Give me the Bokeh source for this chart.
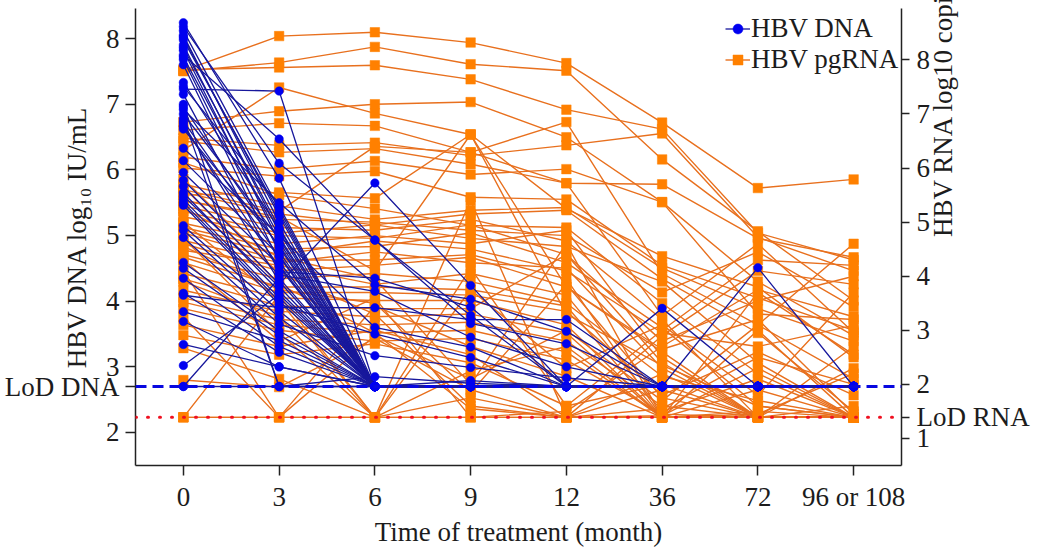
import math
from bokeh.plotting import figure
from bokeh.models import (ColumnDataSource, Range1d, LinearAxis, FixedTicker, Span, Label,
                          Legend, LegendItem)
from bokeh.embed import file_html
from bokeh.resources import INLINE

months = ["0", "3", "6", "9", "12", "36", "72", "96 or 108"]
positions = list(range(len(months)))
LOD_DNA = 2.7
LOD_RNA = 1.39
L = LOD_DNA
R = LOD_RNA

dna_patients = [
    [8.24,5.87,L,L,L,L,L,L],
    [8.18,6.10,4.93,3.78,L,L,L,L],
    [8.12,5.40,L,L,L,L,L,L],
    [8.05,5.20,L,L,L,L,L,L],
    [7.98,5.35,L,L,L,L,L,L],
    [7.90,5.05,L,L,L,L,L,L],
    [7.82,4.90,L,L,L,L,L,L],
    [7.75,6.47,4.93,3.66,3.35,L,L,L],
    [7.68,4.75,L,L,L,L,L,L],
    [7.60,4.60,L,L,L,L,L,L],
    [8.02,5.30,L,L,L,L,L,L],
    [7.86,5.12,L,L,L,L,L,L],
    [7.72,4.98,L,L,L,L,L,L],
    [7.33,5.10,L,L,L,L,L,L],
    [7.23,7.20,L,L,L,L,L,L],
    [7.27,5.45,L,L,L,L,L,L],
    [7.15,4.45,4.35,3.91,L,L,L,L],
    [7.00,L,2.85,2.75,L,L,L,L],
    [6.96,4.82,L,L,L,L,L,L],
    [6.92,5.50,4.25,4.03,3.54,L,L,L],
    [6.85,4.95,L,L,L,L,L,L],
    [6.78,L,L,L,L,L,L,L],
    [6.74,4.68,L,L,L,L,L,L],
    [6.70,4.30,L,2.79,L,L,L,L],
    [6.66,4.52,L,L,L,L,L,L],
    [6.62,4.85,L,L,L,L,L,L],
    [6.33,5.00,3.60,3.30,L,L,L,L],
    [6.14,4.70,L,L,L,L,L,L],
    [5.96,4.55,L,L,L,L,L,L],
    [5.84,4.40,4.15,3.45,3.00,L,L,L],
    [5.75,4.26,5.80,4.24,L,L,L,L],
    [5.65,4.15,L,L,L,L,L,L],
    [5.60,4.22,L,L,L,L,L,L],
    [5.55,4.05,L,L,L,L,L,L],
    [5.50,4.00,L,L,L,L,L,L],
    [5.46,3.95,3.50,3.14,L,L,L,L],
    [5.15,3.85,L,L,L,L,L,L],
    [5.08,3.75,L,L,L,L,L,L],
    [4.97,3.65,3.17,2.99,2.83,L,L,L],
    [4.59,3.55,L,L,L,L,L,L],
    [4.50,3.48,L,L,L,L,L,L],
    [4.35,3.31,L,L,L,L,L,L],
    [4.12,3.22,L,L,L,L,L,L],
    [4.09,3.90,3.90,3.72,3.72,L,L,L],
    [3.84,3.40,L,L,L,L,L,L],
    [3.69,3.00,L,L,L,L,L,L],
    [3.34,3.00,L,L,L,L,L,L],
    [3.02,4.10,L,L,L,L,L,L],
    [L,4.35,L,L,L,3.89,L,L],
    [L,L,L,L,L,L,4.51,L],
]

rna_patients = [
    [7.80,8.44,8.51,8.32,7.94,6.84,5.63,5.79],
    [7.79,7.95,8.24,7.92,7.80,6.16,4.83,3.55],
    [7.82,7.86,7.90,7.64,7.08,6.72,4.80,4.30],
    [6.33,7.49,7.01,6.62,5.25,4.37,3.80,2.50],
    [6.85,7.05,7.18,7.22,6.57,5.37,3.30,3.20],
    [6.70,6.83,6.78,6.29,5.72,3.27,4.60,2.96],
    [6.55,6.42,6.47,6.23,6.42,6.64,4.72,4.10],
    [6.50,6.29,6.36,6.07,5.72,5.70,4.70,4.35],
    [6.20,5.98,6.13,5.88,5.98,5.37,3.90,2.90],
    [6.00,5.85,5.94,5.46,5.42,4.20,3.60,3.00],
    [5.60,5.20,6.40,6.29,6.85,4.05,3.10,2.10],
    [5.50,5.55,5.44,6.62,3.80,2.60,R,R],
    [5.40,5.10,4.10,6.62,3.30,2.35,1.60,R],
    [6.10,5.50,5.25,4.94,4.90,3.50,2.20,R],
    [5.70,5.30,5.05,5.22,5.27,4.15,3.40,2.80],
    [5.55,5.15,4.95,5.15,5.22,3.95,2.95,1.50],
    [5.40,5.05,5.00,4.85,4.75,3.70,4.45,3.43],
    [5.30,4.90,4.85,5.05,4.65,3.20,R,R],
    [5.20,4.80,4.95,4.70,4.55,3.90,2.40,R],
    [5.10,4.75,4.70,4.95,4.40,2.80,3.55,4.00],
    [4.98,4.60,4.75,4.60,4.85,2.50,R,2.30],
    [4.90,4.50,4.55,4.80,4.25,3.05,1.60,R],
    [4.85,4.40,4.65,4.50,4.10,2.95,2.70,3.09],
    [4.80,4.30,4.30,4.40,3.95,R,3.70,2.55],
    [4.66,4.25,4.45,4.25,4.15,2.30,R,R],
    [4.60,4.10,4.20,4.35,3.80,2.65,3.20,1.45],
    [4.48,4.20,3.85,4.05,3.65,1.50,2.10,R],
    [4.40,3.95,4.05,3.90,3.50,2.15,1.70,R],
    [4.35,3.80,3.80,3.75,3.45,R,R,R],
    [4.25,3.70,3.70,3.65,3.35,1.80,2.60,1.80],
    [4.05,3.60,3.55,3.55,3.10,R,1.50,R],
    [3.95,3.45,3.40,3.40,4.40,2.40,R,R],
    [3.74,3.35,3.25,3.30,2.95,R,1.90,R],
    [3.60,3.20,3.10,3.15,2.80,1.60,R,2.70],
    [3.52,3.10,2.95,3.00,2.60,R,3.00,R],
    [3.40,3.00,2.80,2.85,2.45,1.45,R,R],
    [3.25,R,3.45,2.70,2.15,R,R,R],
    [3.10,2.70,3.00,2.55,R,1.90,R,R],
    [2.91,2.55,2.75,2.40,1.60,2.00,R,R],
    [2.67,2.10,R,2.25,2.70,R,R,R],
    [2.08,1.95,2.85,1.90,R,R,R,R],
    [R,3.65,R,1.75,R,2.20,R,R],
    [R,R,R,R,R,R,R,R],
    [R,R,R,R,R,R,R,R],
    [4.10,R,2.90,2.10,3.00,1.70,3.10,4.60],
    [3.90,3.25,R,3.75,2.30,3.10,1.80,3.70],
    [5.00,3.55,R,5.40,R,2.90,4.10,3.85],
    [4.70,2.95,R,4.15,1.60,3.00,4.30,4.20],
    [4.30,2.80,3.60,R,1.50,2.70,3.75,3.25],
    [5.80,4.05,3.30,1.60,R,1.55,2.50,2.00],
    [5.65,3.85,2.95,1.55,R,1.42,2.30,R],
    [5.25,4.35,3.95,2.00,4.60,R,1.45,2.20],
    [4.55,3.75,3.50,1.85,3.85,1.75,R,1.60],
]

FONT = "Liberation Serif"
INK = "#1c1c1c"
ORANGE_LINE = "#E8701E"
ORANGE_MARK = "#FF8000"
BLUE_LINE = "#18189C"
BLUE_MARK = "#0000F0"

p = figure(width=1047, height=554, output_backend="svg", toolbar_location=None,
           x_range=Range1d(-0.5, 7.5), y_range=Range1d(1.497, 8.457),
           min_border_left=135, min_border_right=146, min_border_top=8, min_border_bottom=89,
           outline_line_color=None, background_fill_color="white", border_fill_color="white")
p.grid.visible = False
p.extra_y_ranges = {"rna": Range1d(0.50, 8.95)}

ax = p.xaxis[0]
ax.ticker = FixedTicker(ticks=positions)
ax.major_label_overrides = {i: m for i, m in enumerate(months)}
ax.minor_tick_line_color = None
ax.major_tick_in = 0
ax.major_tick_out = 10
ax.major_label_standoff = 6
ax.major_label_text_font = FONT
ax.major_label_text_font_size = "27px"
ax.major_label_text_color = INK
ax.axis_line_color = "#222222"
ax.major_tick_line_color = "#222222"
ax.axis_line_width = 1.5
ax.major_tick_line_width = 1.5
ax.axis_label = "Time of treatment (month)"
ax.axis_label_standoff = 2
ax.axis_label_text_font = FONT
ax.axis_label_text_font_size = "27px"
ax.axis_label_text_font_style = "normal"
ax.axis_label_text_color = INK

ly = p.yaxis[0]
ly.ticker = FixedTicker(ticks=[2, LOD_DNA, 3, 4, 5, 6, 7, 8])
ly.major_label_overrides = {LOD_DNA: "LoD DNA"}
ly.minor_tick_line_color = None
ly.major_tick_in = 0
ly.major_tick_out = 10
ly.major_label_standoff = 6
ly.major_label_text_font = FONT
ly.major_label_text_font_size = "27px"
ly.major_label_text_color = INK
ly.axis_line_color = "#222222"
ly.major_tick_line_color = "#222222"
ly.axis_line_width = 1.5
ly.major_tick_line_width = 1.5
ly.axis_label = "HBV DNA log₁₀ IU/mL"
ly.axis_label_standoff = -90
ly.axis_label_text_font = FONT
ly.axis_label_text_font_size = "27px"
ly.axis_label_text_font_style = "normal"
ly.axis_label_text_color = INK

ry = LinearAxis(y_range_name="rna", ticker=FixedTicker(ticks=[1, LOD_RNA, 2, 3, 4, 5, 6, 7, 8]))
ry.major_label_overrides = {LOD_RNA: "LoD RNA"}
ry.minor_tick_line_color = None
ry.major_tick_in = 0
ry.major_tick_out = 8
ry.major_label_standoff = 7
ry.major_label_text_font = FONT
ry.major_label_text_font_size = "27px"
ry.major_label_text_color = INK
ry.axis_line_color = "#222222"
ry.major_tick_line_color = "#222222"
ry.axis_line_width = 1.5
ry.major_tick_line_width = 1.5
ry.axis_label = "HBV RNA log10 copies/mL"
ry.axis_label_standoff = -90
ry.axis_label_text_font = FONT
ry.axis_label_text_font_size = "27px"
ry.axis_label_text_font_style = "normal"
ry.axis_label_text_color = INK
if "axis_label_orientation" in ry.properties():
    ry.axis_label_orientation = math.pi / 2
p.add_layout(ry, "right")

# HBV pgRNA, right axis, underneath
rna_lines = p.multi_line(xs=[positions] * len(rna_patients), ys=rna_patients, y_range_name="rna",
                         line_color=ORANGE_LINE, line_width=1.4)
rna_src = ColumnDataSource(dict(
    x=[x for row in rna_patients for x in positions],
    y=[v for row in rna_patients for v in row]))
rna_pts = p.scatter("x", "y", source=rna_src, y_range_name="rna", marker="square", size=9.5,
                    fill_color=ORANGE_MARK, line_color=ORANGE_MARK, line_width=0.5)

# HBV DNA, left axis, on top
dna_lines = p.multi_line(xs=[positions] * len(dna_patients), ys=dna_patients,
                         line_color=BLUE_LINE, line_width=1.3)
dna_src = ColumnDataSource(dict(
    x=[x for row in dna_patients for x in positions],
    y=[v for row in dna_patients for v in row]))
dna_pts = p.scatter("x", "y", source=dna_src, marker="circle", size=8.5,
                    fill_color=BLUE_MARK, line_color=BLUE_MARK, line_width=0.5)

p.add_layout(Span(location=LOD_RNA, dimension="width", y_range_name="rna", line_color="#F01020",
                  line_width=3, line_dash="1 11", line_cap="round"))
p.add_layout(Span(location=LOD_DNA, dimension="width", line_color="#0808E0",
                  line_width=3, line_dash="11 6"))

legend = Legend(items=[LegendItem(label="HBV DNA", renderers=[dna_lines, dna_pts]),
                       LegendItem(label="HBV pgRNA", renderers=[rna_lines, rna_pts])],
                location=(590, 390), orientation="vertical", background_fill_alpha=0,
                border_line_color=None, padding=0, margin=0, spacing=0,
                glyph_width=25, glyph_height=29, label_standoff=1, label_height=29,
                label_text_font=FONT, label_text_font_size="27px", label_text_color=INK)
p.add_layout(legend)

# top label of the right axis sits above the end of the axis line
nine = Label(x=7.5, y=8.35, x_offset=15, text="9", level="overlay", text_font=FONT,
             text_font_size="27px", text_color=INK, text_align="left", text_baseline="middle")
p.add_layout(nine)

open("out.html", "w").write(file_html(p, INLINE))
